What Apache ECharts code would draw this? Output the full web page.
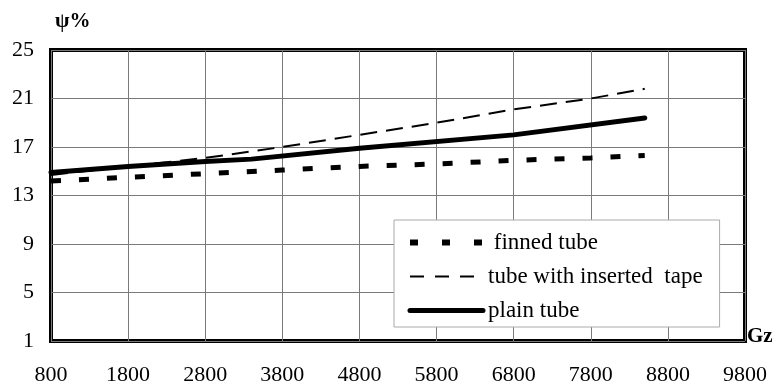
<!DOCTYPE html>
<html>
<head>
<meta charset="utf-8">
<script src="https://cdn.jsdelivr.net/npm/echarts@6/dist/echarts.min.js"></script>
<style>
  html, body { margin: 0; padding: 0; background: #fff; }
  #chart { width: 777px; height: 387px; }
</style>
</head>
<body>
<div id="chart"></div>
<script>
// values (Gz, psi %)
var gzFinned = [800, 1800, 2800, 3800, 4800, 5800, 6800, 7800, 8500];
var psiFinned = [14.2, 14.5, 14.8, 15.1, 15.4, 15.6, 15.9, 16.1, 16.3];

var gzTape = [800, 1800, 2800, 3800, 4800, 5800, 6800, 7800, 8500];
var psiTape = [14.7, 15.4, 16.1, 17.0, 18.0, 19.0, 20.1, 21.0, 21.8];

var gzPlain = [800, 1800, 2800, 3400, 4800, 6800, 8500];
var psiPlain = [14.9, 15.4, 15.8, 16.0, 16.9, 18.0, 19.4];

function pairs(xs, ys) {
  return xs.map(function (x, i) { return [x, ys[i]]; });
}

var font = '"Liberation Serif", "DejaVu Serif", serif';
var chart = echarts.init(document.getElementById('chart'));
chart.setOption({
  animation: false,
  title: {
    text: 'ψ%',
    left: 50,
    top: 6,
    textStyle: { fontFamily: font, fontSize: 21, fontWeight: 'bold', color: '#000' }
  },
  grid: {
    left: 51, right: 32, top: 50, bottom: 46,
    show: true,
    borderColor: '#000',
    borderWidth: 4,
    backgroundColor: 'transparent'
  },
  xAxis: {
    type: 'value',
    min: 800, max: 9800, interval: 1000,
    name: 'Gz',
    nameLocation: 'end',
    nameGap: 2,
    nameTextStyle: { fontFamily: font, fontSize: 21, fontWeight: 'bold', color: '#000',
      verticalAlign: 'bottom', align: 'left', padding: [0, 0, -6, 0] },
    axisLine: { show: false },
    axisTick: { show: false },
    axisLabel: { fontFamily: font, fontSize: 22, color: '#000', margin: 23,
      formatter: function (v) { return String(v); } },
    splitLine: { show: true, lineStyle: { color: '#7a7a7a', width: 1 } }
  },
  yAxis: {
    type: 'value',
    min: 1, max: 25, interval: 4,
    axisLine: { show: false },
    axisTick: { show: false },
    axisLabel: { fontFamily: font, fontSize: 22, color: '#000', margin: 17 },
    splitLine: { show: true, lineStyle: { color: '#7a7a7a', width: 1 } }
  },
  legend: {
    orient: 'vertical',
    left: 394,
    top: 220,
    backgroundColor: '#fff',
    borderColor: '#aaa',
    borderWidth: 1,
    borderRadius: 0,
    padding: [11, 17, 5, 13],
    itemWidth: 73,
    itemHeight: 14,
    itemGap: 11,
    itemStyle: { opacity: 0 },
    textStyle: { fontFamily: font, fontSize: 23, color: '#000' },
    data: [
      { name: ' finned tube', lineStyle: { width: 6, type: [8, 24] } },
      { name: 'tube with inserted  tape', lineStyle: { width: 2, type: [14, 11] } },
      { name: 'plain tube', lineStyle: { width: 5, type: 'solid' } }
    ]
  },
  series: [
    {
      name: ' finned tube',
      type: 'line',
      data: pairs(gzFinned, psiFinned),
      showSymbol: false,
      symbol: 'none',
      lineStyle: { color: '#000', width: 5, type: [10, 18] }
    },
    {
      name: 'tube with inserted  tape',
      type: 'line',
      data: pairs(gzTape, psiTape),
      showSymbol: false,
      symbol: 'none',
      lineStyle: { color: '#000', width: 2, type: [17, 9] }
    },
    {
      name: 'plain tube',
      type: 'line',
      data: pairs(gzPlain, psiPlain),
      showSymbol: false,
      symbol: 'none',
      lineStyle: { color: '#000', width: 5, cap: 'round' }
    }
  ]
});
</script>
</body>
</html>
